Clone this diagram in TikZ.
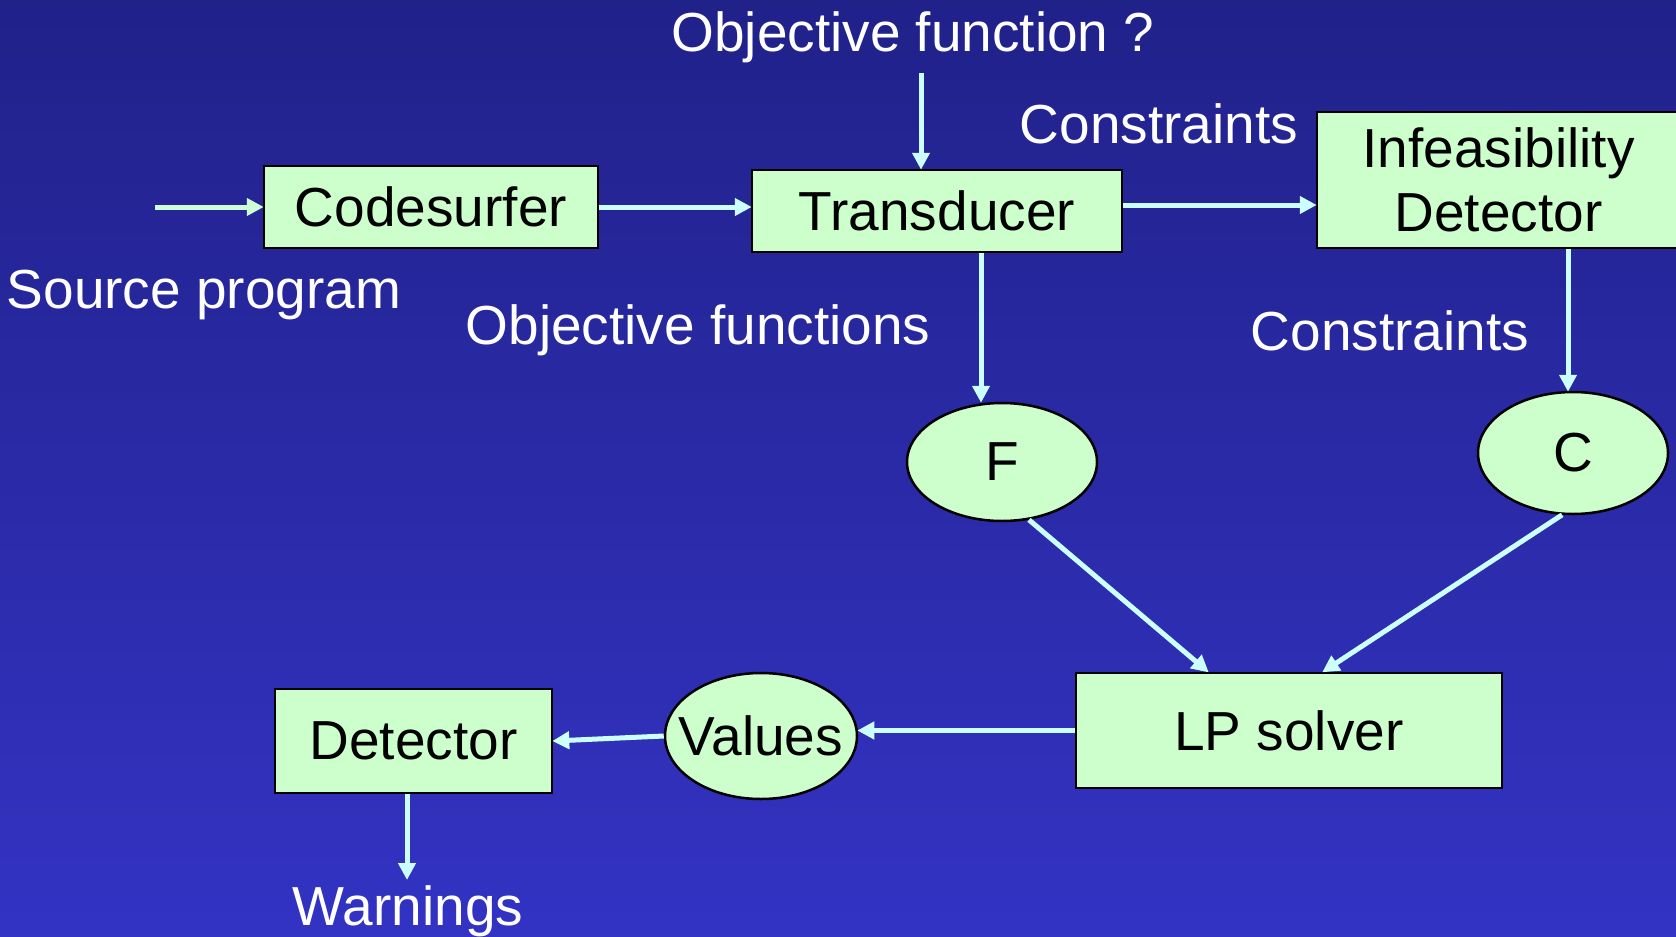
\documentclass[tikz,border=0pt]{standalone}
\usepackage{fontspec}
\setmainfont{Liberation Sans}
\usetikzlibrary{arrows.meta,shapes.geometric}
\definecolor{bgtop}{RGB}{33,33,138}
\definecolor{bgbot}{RGB}{51,51,196}
\definecolor{boxfill}{RGB}{204,255,204}
\definecolor{flow}{RGB}{204,255,255}
\definecolor{flowin}{RGB}{204,255,214}
\tikzset{
  every node/.style={font=\fontsize{55}{64}\selectfont},
  stage/.style={draw=black, line width=2.5pt, fill=boxfill, rectangle, inner sep=0pt, text=black},
  blob/.style={draw=black, line width=2.5pt, fill=boxfill, ellipse, inner xsep=-25pt, inner ysep=-5pt, text=black},
  caption/.style={text=white, anchor=base, inner sep=0pt},
  flowarrow/.style={draw=flow, line width=5pt, -{Triangle[length=17pt,width=17pt]}, shorten >=-1pt}
}
\begin{document}
\begin{tikzpicture}[x=1pt,y=-1pt]
  % background with vertical gradient
  \useasboundingbox (0,0) rectangle (1676,937);
  \clip (0,0) rectangle (1676,937);
  \shade[top color=bgtop, bottom color=bgbot] (0,0) rectangle (1676,937);

  % processing stages
  \node[stage, minimum width=334pt, minimum height=82pt] (cs) at (431,207) {Codesurfer};
  \node[stage, minimum width=370pt, minimum height=82pt] (td) at (937,211) {Transducer};
  \node[stage, minimum width=363pt, minimum height=136pt, align=center] (inf) at (1498.5,180) {Infeasibility\\Detector};
  \node[stage, minimum width=426pt, minimum height=115pt] (lp) at (1289,730.5) {LP solver};
  \node[stage, minimum width=277pt, minimum height=104pt] (det) at (413.5,741) {Detector};

  % intermediate data
  \node[blob, minimum width=190pt, minimum height=118pt] (F) at (1002,462) {F};
  \node[blob, minimum width=190pt, minimum height=122pt] (C) at (1573,453) {C};
  \node[blob, minimum width=192pt, minimum height=126pt] (val) at (761,736) {Values};

  % captions
  \node[caption] (ofq) at (913,51) {Objective function ?};
  \node[caption] (con1) at (1159,143) {Constraints};
  \node[caption] (src) at (204,308) {Source program};
  \node[caption] (ofs) at (698,344) {Objective functions};
  \node[caption] (con2) at (1390,350) {Constraints};
  \node[caption] (warn) at (408,925) {Warnings};

  % free ends of the open arrows
  \coordinate (srcin) at (155,207);
  \coordinate (ofqin) at (921,73);
  \coordinate (wtip) at (407,879);

  % data flow
  \draw[flowarrow, draw=flowin] (srcin) -- (srcin -| cs.west);
  \draw[flowarrow] (cs.east) -- (cs.east -| td.west);
  \draw[flowarrow] (ofqin) -- (ofqin |- td.north);
  \draw[flowarrow] ([yshift=6pt]td.east) -- ([yshift=6pt]td.east -| inf.west);
  \draw[flowarrow] ([xshift=44pt]td.south) -- ([xshift=44pt]td.south |- F.north);
  \draw[flowarrow] ([xshift=-5pt]C.north |- inf.south) -- ([xshift=-5pt]C.north);
  \draw[flowarrow] (F.-65) -- ([xshift=-81pt]lp.north);
  \draw[flowarrow] (C.-100) -- ([xshift=34pt]lp.north);
  \draw[flowarrow] (lp.west) -- (lp.west -| val.east);
  \draw[flowarrow] (val.west) -- (det.east);
  \draw[flowarrow] (det.south -| wtip) -- (wtip);
\end{tikzpicture}
\end{document}
